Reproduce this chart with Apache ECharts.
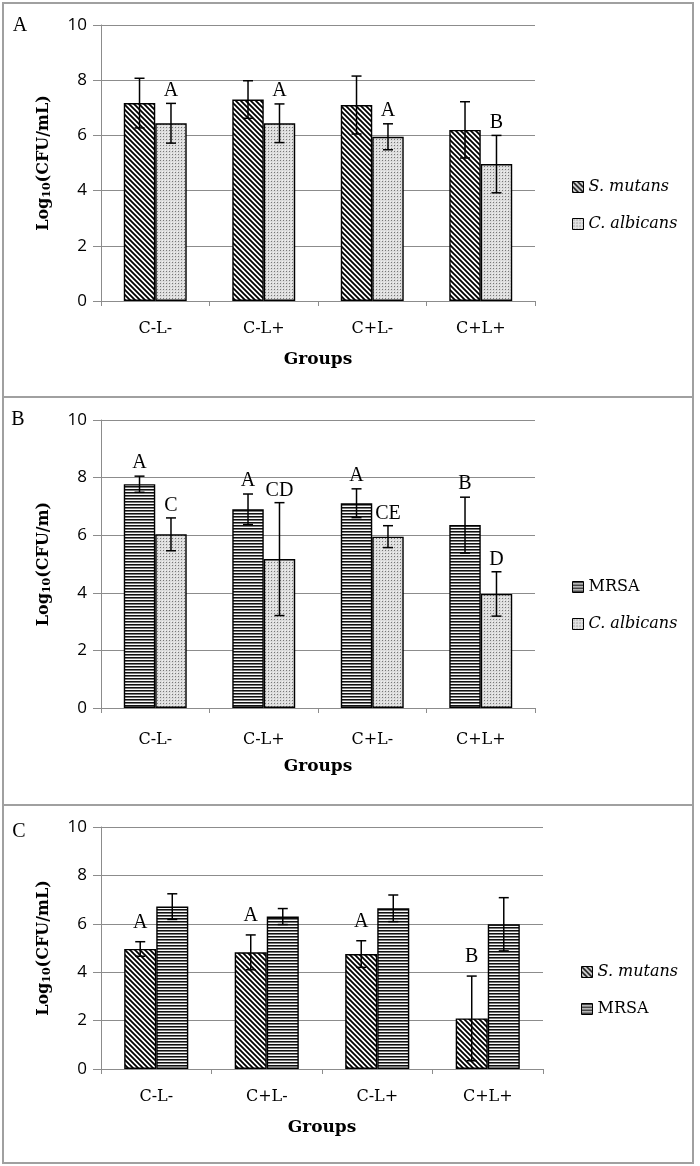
<!DOCTYPE html>
<html><head><meta charset="utf-8">
<script src="https://cdn.jsdelivr.net/npm/echarts@6/dist/echarts.min.js"></script>
<style>html,body{margin:0;padding:0;background:#fff}#c{width:700px;height:1166px}</style>
</head><body><div id="c"></div>
<script>
// ---------- data ----------
const groupsA = ['C-L-', 'C-L+', 'C+L-', 'C+L+'];
const mutansA = [7.17, 7.30, 7.10, 6.20];
const mutansA_sd = [0.90, 0.68, 1.05, 1.02];
const albA = [6.44, 6.44, 5.95, 4.96];
const albA_sd = [0.72, 0.70, 0.47, 1.04];
const albA_letters = ['A', 'A', 'A', 'B'];

const groupsB = ['C-L-', 'C-L+', 'C+L-', 'C+L+'];
const mrsaB = [7.77, 6.90, 7.11, 6.35];
const mrsaB_sd = [0.28, 0.53, 0.50, 0.97];
const albB = [6.03, 5.17, 5.95, 3.96];
const albB_sd = [0.57, 1.96, 0.38, 0.77];
const mrsaB_letters = ['A', 'A', 'A', 'B'];
const albB_letters = ['C', 'CD', 'CE', 'D'];

const groupsC = ['C-L-', 'C+L-', 'C-L+', 'C+L+'];
const mutansC = [4.96, 4.82, 4.75, 2.09];
const mutansC_sd = [0.30, 0.72, 0.55, 1.75];
const mrsaC = [6.71, 6.30, 6.64, 5.98];
const mrsaC_sd = [0.53, 0.33, 0.55, 1.10];
const mutansC_letters = ['A', 'A', 'A', 'B'];

const yTicks = [0, 2, 4, 6, 8, 10];

// ---------- patterns ----------
function hatch() {
  const s = 5, c = document.createElement('canvas'); c.width = c.height = s;
  const g = c.getContext('2d'); g.fillStyle = '#fff'; g.fillRect(0, 0, s, s);
  g.strokeStyle = '#000'; g.lineWidth = 1.8; g.beginPath();
  for (let k = -1; k <= 1; k++) { g.moveTo(k * s - 1, -1); g.lineTo(k * s + s + 1, s + 1); }
  g.stroke(); return { image: c, repeat: 'repeat' };
}
function hlines() {
  const c = document.createElement('canvas'); c.width = 4; c.height = 3;
  const g = c.getContext('2d');
  g.fillStyle = '#111'; g.fillRect(0, 0, 4, 1);
  g.fillStyle = '#777'; g.fillRect(0, 1, 4, 1);
  g.fillStyle = '#fafafa'; g.fillRect(0, 2, 4, 1);
  return { image: c, repeat: 'repeat' };
}
function dots() {
  const c = document.createElement('canvas'); c.width = 3; c.height = 3;
  const g = c.getContext('2d'); g.fillStyle = '#dcdcdc'; g.fillRect(0, 0, 3, 3);
  g.fillStyle = '#777'; g.fillRect(1, 1, 1, 1);
  g.fillStyle = '#f0f0f0'; g.fillRect(0, 0, 1, 1);
  return { image: c, repeat: 'repeat' };
}
const PAT = { 'S. mutans': hatch(), 'C. albicans': dots(), 'MRSA': hlines() };

const serif = 'DejaVu Serif';
const BARW = 0.29;

function barSeries(name, vals, idx) {
  return {
    type: 'bar', name: name, xAxisIndex: idx, yAxisIndex: idx,
    data: vals, barWidth: (BARW * 100) + '%', barGap: '0%',
    itemStyle: { color: PAT[name], borderColor: '#000', borderWidth: 1.4 },
    emphasis: { disabled: true }, z: 2
  };
}
function errSeries(vals, sds, letters, side, idx, off) {
  return {
    type: 'custom', xAxisIndex: idx, yAxisIndex: idx, z: 5, silent: true,
    data: vals.map((v, i) => [i, v, sds[i]]),
    encode: { x: 0, y: 1 },
    renderItem: function (params, api) {
      const i = api.value(0), m = api.value(1), sd = api.value(2);
      const band = api.size([1, 0])[0];
      const bw = band * BARW;
      const cx = api.coord([i, m])[0] + side * bw / 2;
      const yt = api.coord([i, m + sd])[1];
      const yb = api.coord([i, Math.max(0, m - sd)])[1];
      const cap = 5;
      const st = { stroke: '#000', lineWidth: 1.5 };
      const ch = [
        { type: 'line', shape: { x1: cx, y1: yt, x2: cx, y2: yb }, style: st },
        { type: 'line', shape: { x1: cx - cap, y1: yt, x2: cx + cap, y2: yt }, style: st },
        { type: 'line', shape: { x1: cx - cap, y1: yb, x2: cx + cap, y2: yb }, style: st }
      ];
      if (letters && letters[i]) {
        ch.push({ type: 'text', x: cx, y: yt - off,
          style: { text: letters[i], fill: '#000', font: '20px "Liberation Serif"', align: 'center', verticalAlign: 'middle' } });
      }
      return { type: 'group', children: ch };
    }
  };
}

const grids = [
  { left: 101, right: 165, top: 25, height: 276 },
  { left: 101, right: 165, top: 420, height: 288 },
  { left: 101, right: 157, top: 827, height: 242 }
];
const cats = [groupsA, groupsB, groupsC];
const yNames = ['Log{s|10}(CFU/mL)', 'Log{s|10}(CFU/m)', 'Log{s|10}(CFU/mL)'];
const labMargins = [20, 24, 20];

const xAxes = cats.map((c, k) => ({
  type: 'category', gridIndex: k, data: c,
  name: 'Groups', nameLocation: 'middle', nameGap: 50,
  nameTextStyle: { fontFamily: serif, fontWeight: 'bold', fontSize: 17, color: '#000' },
  axisLine: { lineStyle: { color: '#8c8c8c', width: 1 } },
  axisTick: { show: true, length: 5, lineStyle: { color: '#8c8c8c' } },
  axisLabel: { fontFamily: serif, fontSize: 16, color: '#000', margin: labMargins[k] },
  splitLine: { show: false }
}));
const yAxes = cats.map((c, k) => ({
  type: 'value', gridIndex: k, min: yTicks[0], max: yTicks[yTicks.length - 1], interval: 2,
  name: yNames[k], nameLocation: 'middle', nameGap: 48,
  nameTextStyle: { fontFamily: serif, fontWeight: 'bold', fontSize: 16, color: '#000',
    rich: { s: { fontFamily: serif, fontWeight: 'bold', fontSize: 11, color: '#000', padding: [7, 0, 0, 0] } } },
  axisLine: { show: true, lineStyle: { color: '#8c8c8c', width: 1 } },
  axisTick: { show: true, length: 8, lineStyle: { color: '#8c8c8c' } },
  axisLabel: { fontFamily: 'Open Sans', fontSize: 17, color: '#000', margin: 14 },
  splitLine: { show: true, lineStyle: { color: '#8c8c8c', width: 1 } }
}));

const legendText = {
  fontFamily: serif, fontSize: 16, color: '#000', lineHeight: 20,
  rich: { i: { fontFamily: serif, fontStyle: 'italic', fontSize: 16, color: '#000' } }
};
function legendFmt(n) { return n === 'MRSA' ? n : '{i|' + n + '}'; }
const legends = [
  { data: ['S. mutans', 'C. albicans'], left: 567, top: 172 },
  { data: ['MRSA', 'C. albicans'], left: 567, top: 572 },
  { data: ['S. mutans', 'MRSA'], left: 576, top: 957 }
].map(l => Object.assign(l, {
  orient: 'vertical', icon: 'rect', itemWidth: 11, itemHeight: 11, itemGap: 17,
  selectedMode: false, textStyle: legendText, formatter: legendFmt,
  itemStyle: { borderColor: '#000', borderWidth: 1 }
}));

const series = [
  barSeries('S. mutans', mutansA, 0), barSeries('C. albicans', albA, 0),
  errSeries(mutansA, mutansA_sd, null, -1, 0, 13), errSeries(albA, albA_sd, albA_letters, 1, 0, 13),
  barSeries('MRSA', mrsaB, 1), barSeries('C. albicans', albB, 1),
  errSeries(mrsaB, mrsaB_sd, mrsaB_letters, -1, 1, 13), errSeries(albB, albB_sd, albB_letters, 1, 1, 12),
  barSeries('S. mutans', mutansC, 2), barSeries('MRSA', mrsaC, 2),
  errSeries(mutansC, mutansC_sd, mutansC_letters, -1, 2, 19), errSeries(mrsaC, mrsaC_sd, null, 1, 2, 13)
];

const border = { stroke: '#a0a0a0', lineWidth: 2, fill: 'none' };
const panelFont = '20px "Liberation Serif"';
const graphic = [
  { type: 'rect', shape: { x: 3, y: 3, width: 690, height: 394 }, style: border, silent: true },
  { type: 'rect', shape: { x: 3, y: 397, width: 690, height: 408 }, style: border, silent: true },
  { type: 'rect', shape: { x: 3, y: 805, width: 690, height: 358 }, style: border, silent: true },
  { type: 'text', x: 20, y: 26, style: { text: 'A', font: panelFont, fill: '#000', align: 'center', verticalAlign: 'middle' } },
  { type: 'text', x: 18, y: 420, style: { text: 'B', font: panelFont, fill: '#000', align: 'center', verticalAlign: 'middle' } },
  { type: 'text', x: 19, y: 832, style: { text: 'C', font: panelFont, fill: '#000', align: 'center', verticalAlign: 'middle' } }
];

const chart = echarts.init(document.getElementById('c'), null, { renderer: 'canvas' });
chart.setOption({
  animation: false, backgroundColor: '#fff',
  grid: grids, xAxis: xAxes, yAxis: yAxes, legend: legends, series: series, graphic: graphic
});
</script></body></html>
